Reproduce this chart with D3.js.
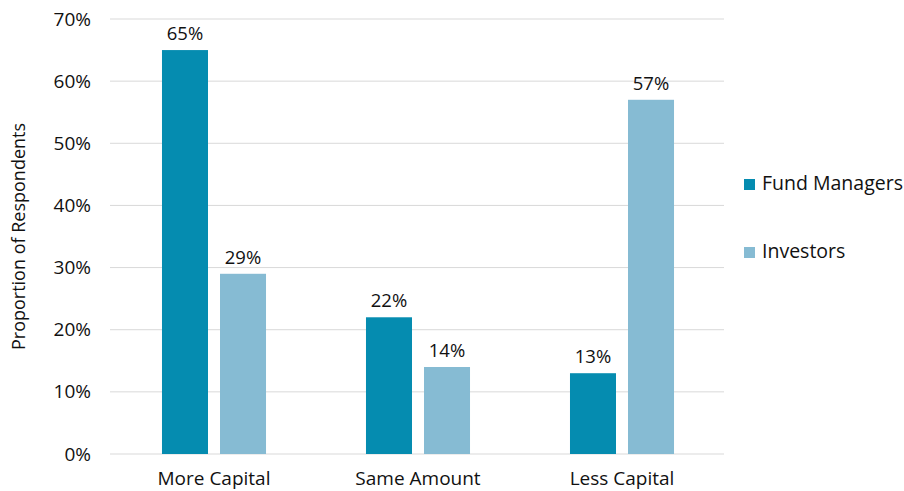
<!DOCTYPE html>
<html>
<head>
<meta charset="utf-8">
<script src="https://cdn.jsdelivr.net/npm/d3@7"></script>
<style>
  body { margin: 0; background: #fff; }
  text { font-family: "Open Sans", sans-serif; fill: #111; }
</style>
</head>
<body>
<div id="chart"></div>
<script>
const categories = ["More Capital", "Same Amount", "Less Capital"];
const seriesNames = ["Fund Managers", "Investors"];
const fundManagers = [65, 22, 13];
const investors = [29, 14, 57];
const yTicks = [0, 10, 20, 30, 40, 50, 60, 70];
const colors = ["#058CB0", "#86BBD3"];

const W = 904, H = 491;
const margin = { top: 19, right: 180, bottom: 37, left: 112 };
const width = W - margin.left - margin.right;
const height = H - margin.top - margin.bottom;

const svg = d3.select("#chart").append("svg")
  .attr("width", W).attr("height", H);
const g = svg.append("g")
  .attr("transform", `translate(${margin.left},${margin.top})`);

const x0 = d3.scaleBand().domain(categories).range([0, width])
  .paddingInner(0.49).paddingOuter(0.245);
const x1 = d3.scaleBand().domain(seriesNames).range([0, x0.bandwidth()])
  .paddingInner(0.207).paddingOuter(0);
const y = d3.scaleLinear().domain([0, 70]).range([height, 0]);

// gridlines
g.selectAll(".grid").data(yTicks).enter().append("line")
  .attr("x1", -2).attr("x2", width)
  .attr("y1", d => y(d)).attr("y2", d => y(d))
  .attr("stroke", "#d9d9d9").attr("stroke-width", 1);

// y axis
const yAxis = g.append("g").call(d3.axisLeft(y).tickValues(yTicks)
  .tickFormat(d => d + "%").tickSize(0).tickPadding(21));
yAxis.select(".domain").remove();
yAxis.selectAll("text").style("font-size", "19px")
  .style("font-family", "'Open Sans', sans-serif").attr("fill", "#111");

// x axis
const xAxis = g.append("g").attr("transform", `translate(0,${height})`)
  .call(d3.axisBottom(x0).tickSize(0).tickPadding(18));
xAxis.select(".domain").remove();
xAxis.selectAll("text").style("font-size", "19px")
  .style("font-family", "'Open Sans', sans-serif").attr("fill", "#111");

const rows = categories.map((c, i) => ({
  cat: c,
  vals: [
    { s: seriesNames[0], v: fundManagers[i], c: colors[0] },
    { s: seriesNames[1], v: investors[i], c: colors[1] }
  ]
}));

const grp = g.selectAll(".grp").data(rows).enter().append("g")
  .attr("transform", d => `translate(${x0(d.cat)},0)`);

grp.selectAll("rect").data(d => d.vals).enter().append("rect")
  .attr("x", d => x1(d.s))
  .attr("y", d => y(d.v))
  .attr("width", x1.bandwidth())
  .attr("height", d => height - y(d.v))
  .attr("fill", d => d.c);

grp.selectAll(".lbl").data(d => d.vals).enter().append("text")
  .attr("x", d => x1(d.s) + x1.bandwidth() / 2)
  .attr("y", d => y(d.v) - 10)
  .attr("text-anchor", "middle")
  .style("font-size", "18.5px")
  .text(d => d.v + "%");

// y title
svg.append("text")
  .attr("transform", `translate(25,${margin.top + height / 2}) rotate(-90)`)
  .attr("text-anchor", "middle")
  .style("font-size", "18px")
  .text("Proportion of Respondents");

// legend
const legend = svg.selectAll(".leg").data(seriesNames).enter().append("g")
  .attr("transform", (d, i) => `translate(744,${179 + i * 68})`);
legend.append("rect").attr("width", 11).attr("height", 11)
  .attr("fill", (d, i) => colors[i]);
legend.append("text").attr("x", 18).attr("y", 11)
  .style("font-size", "19.5px")
  .text(d => d);
</script>
</body>
</html>
